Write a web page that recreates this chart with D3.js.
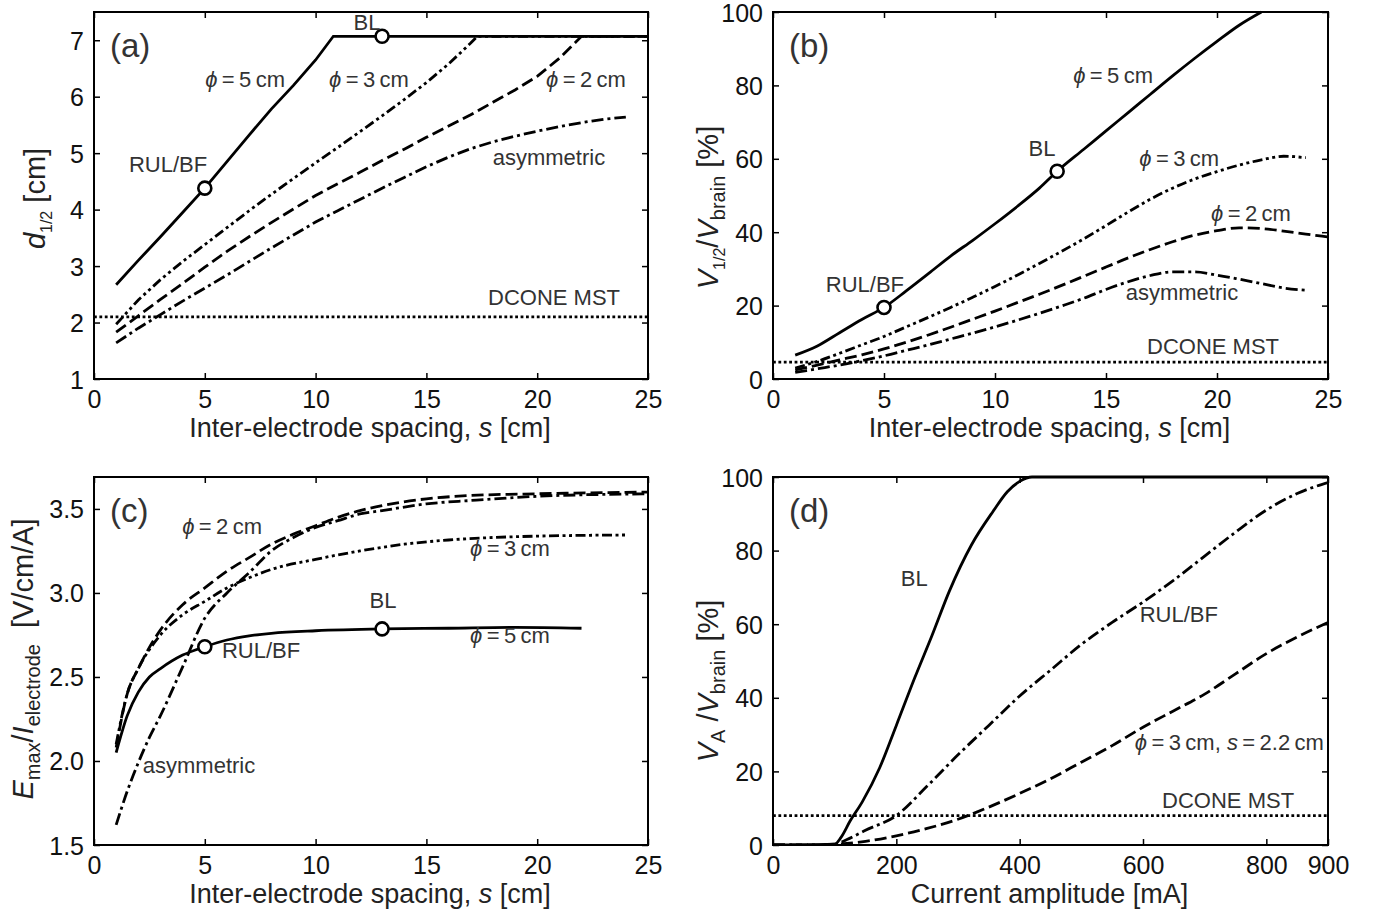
<!DOCTYPE html>
<html>
<head>
<meta charset="utf-8">
<script src="https://cdn.jsdelivr.net/npm/d3@7"></script>
<style>
  body { margin: 0; background: #fff; }
  svg { display: block; }
  .tick text { font-family: "Liberation Sans", Arial, sans-serif; font-size: 25px; fill: #111; }
  .tick line { stroke: #000; stroke-width: 1.5; }
  .lbl { font-family: "Liberation Sans", Arial, sans-serif; font-size: 22px; fill: #333; }
  .title { font-family: "Liberation Sans", Arial, sans-serif; font-size: 27px; fill: #222; }
</style>
</head>
<body>
<div class="chart"></div>
<script>
// DATA ------------------------------

// (a) d1/2 vs inter-electrode spacing
const aS_phi5 = [1, 2, 3, 4, 5, 6, 7, 8, 9, 10, 10.8, 13, 25];
const aD_phi5 = [2.67, 3.1, 3.52, 3.95, 4.38, 4.85, 5.32, 5.78, 6.2, 6.65, 7.07, 7.07, 7.07];
const aS_phi3 = [1, 2, 3, 4, 5, 6, 7, 8, 9, 10, 11, 12, 13, 14, 15, 16, 17, 17.3, 25];
const aD_phi3 = [1.97, 2.4, 2.76, 3.08, 3.38, 3.68, 3.98, 4.27, 4.55, 4.83, 5.1, 5.38, 5.66, 5.95, 6.25, 6.58, 6.95, 7.07, 7.07];
const aS_phi2 = [1, 2, 3, 4, 5, 6, 7, 8, 9, 10, 11, 12, 13, 14, 15, 16, 17, 18, 19, 20, 21, 22, 25];
const aD_phi2 = [1.83, 2.12, 2.41, 2.69, 2.98, 3.26, 3.52, 3.77, 4.01, 4.25, 4.46, 4.66, 4.87, 5.07, 5.28, 5.48, 5.68, 5.9, 6.12, 6.36, 6.68, 7.07, 7.07];
const aS_asym = [1, 2, 3, 4, 5, 6, 7, 8, 9, 10, 11, 12, 13, 14, 15, 16, 17, 18, 19, 20, 21, 22, 23, 24];
const aD_asym = [1.64, 1.9, 2.14, 2.38, 2.61, 2.84, 3.08, 3.32, 3.55, 3.78, 3.98, 4.18, 4.38, 4.57, 4.76, 4.93, 5.08, 5.2, 5.3, 5.39, 5.47, 5.54, 5.6, 5.64];
const aDcone = 2.1;
const aMarkers = [[5, 4.38], [13, 7.07]];

// (b) V1/2 / Vbrain vs spacing
const bS_phi5 = [1, 2, 3, 4, 5, 6, 7, 8, 9, 10, 11, 12, 12.8, 14, 15, 16, 17, 18, 19, 20, 21, 22];
const bV_phi5 = [6.5, 9, 12.6, 16.2, 19.5, 24, 28.7, 33.5, 37.8, 42.3, 47, 52, 56.6, 62.6, 67.6, 72.6, 77.6, 82.6, 87.4, 92, 96.4, 100];
const bS_phi3 = [1, 2, 3, 4, 5, 6, 7, 8, 9, 10, 11, 12, 13, 14, 15, 16, 17, 18, 19, 20, 21, 22, 23, 24];
const bV_phi3 = [3, 4.8, 7, 9.3, 11.6, 14.2, 16.8, 19.5, 22.3, 25.2, 28.3, 31.5, 34.8, 38.2, 41.8, 45.5, 49, 52, 54.5, 56.5, 58.3, 59.7, 60.7, 60.3];
const bS_phi2 = [1, 2, 3, 4, 5, 6, 7, 8, 9, 10, 11, 12, 13, 14, 15, 16, 17, 18, 19, 20, 21, 22, 23, 24, 25];
const bV_phi2 = [2.5, 3.8, 5.2, 6.6, 8.2, 10, 12, 14.1, 16.3, 18.5, 20.8, 23.1, 25.5, 28, 30.5, 33, 35.3, 37.4, 39.2, 40.4, 41.2, 41, 40.3, 39.5, 38.7];
const bS_asym = [1, 2, 3, 4, 5, 6, 7, 8, 9, 10, 11, 12, 13, 14, 15, 16, 17, 18, 19, 20, 21, 22, 23, 24];
const bV_asym = [1.8, 2.8, 3.8, 5, 6.3, 7.8, 9.3, 10.9, 12.5, 14.2, 16, 17.9, 19.9, 22, 24.4, 26.5, 28.2, 29.2, 29.2, 28.3, 27.2, 26, 24.8, 24.2];
const bDcone = 4.6;
const bMarkers = [[5, 19.5], [12.8, 56.6]];

// (c) Emax / Ielectrode vs spacing
const cS_phi5 = [1, 1.5, 2, 2.5, 3, 4, 5, 6, 7, 8, 10, 13, 16, 19, 22];
const cE_phi5 = [2.05, 2.27, 2.41, 2.5, 2.55, 2.63, 2.68, 2.72, 2.745, 2.76, 2.775, 2.786, 2.79, 2.795, 2.79];
const cS_phi3 = [1, 1.5, 2, 3, 4, 5, 6, 7, 8, 10, 12, 14, 16, 18, 20, 24];
const cE_phi3 = [2.1, 2.4, 2.55, 2.75, 2.87, 2.95, 3.03, 3.09, 3.14, 3.2, 3.25, 3.29, 3.315, 3.33, 3.338, 3.345];
const cS_phi2 = [1, 1.5, 2, 3, 4, 5, 6, 7, 8, 9, 10, 11, 12, 13, 15, 17, 20, 25];
const cE_phi2 = [2.08, 2.4, 2.55, 2.78, 2.93, 3.03, 3.13, 3.21, 3.29, 3.35, 3.4, 3.45, 3.49, 3.52, 3.56, 3.58, 3.59, 3.6];
const cS_asym = [1, 1.5, 2, 2.5, 3, 4, 5, 6, 7, 8, 9, 10, 11, 12, 13, 15, 17, 20, 25];
const cE_asym = [1.62, 1.82, 1.99, 2.14, 2.27, 2.56, 2.85, 3.0, 3.12, 3.25, 3.33, 3.39, 3.43, 3.47, 3.49, 3.53, 3.55, 3.575, 3.59];
const cMarkers = [[5, 2.68], [13, 2.786]];

// (d) VA / Vbrain vs current amplitude
const dI_BL = [0, 50, 100, 110, 125, 145, 173, 200, 230, 258, 286, 322, 357, 380, 400, 420, 900];
const dV_BL = [0, 0, 0.2, 2, 6.5, 11.8, 21, 32.5, 45.5, 57, 69, 81.6, 90.7, 96, 98.8, 100, 100];
const dI_RUL = [0, 50, 100, 120, 150, 200, 250, 300, 350, 400, 450, 500, 550, 600, 650, 700, 750, 800, 850, 900];
const dV_RUL = [0, 0, 0.2, 1.5, 4, 8, 16, 24.5, 32.5, 40.5, 47.5, 54.5, 60.5, 66, 72, 78.5, 85, 91, 95.5, 98.5];
const dI_phi3 = [0, 50, 100, 150, 200, 250, 300, 350, 400, 450, 500, 550, 600, 650, 700, 750, 800, 850, 900];
const dV_phi3 = [0, 0, 0.2, 1, 2.5, 4.5, 7, 10.3, 14, 18, 22.5, 27, 32, 36.5, 41, 46.5, 52, 56.5, 60.5];
const dDcone = 8;

// tick labels
const sTicks = [0, 5, 10, 15, 20, 25];
const aTicksY = [1, 2, 3, 4, 5, 6, 7];
const pctTicks = [0, 20, 40, 60, 80, 100];
const cTicksY = [1.5, 2.0, 2.5, 3.0, 3.5];
const dTicksX = [0, 200, 400, 600, 800, 900];

// STYLES ------------------------------
const dash = {
  solid: null,
  dashed: "12,5",
  dashdot: "12,4,3,4",
  dashdotdot: "10,3.5,3,3.5,3,3.5",
  dotted: "2.8,2.6"
};
const phi = "\u03D5";
const th = "\u2009";

const svg = d3.select(".chart").append("svg")
  .attr("width", 1373).attr("height", 917);

function drawPanel(p) {
  let x = d3.scaleLinear().domain(p.xDomain).range([p.left, p.right]);
  let y = d3.scaleLinear().domain(p.yDomain).range([p.bottom, p.top]);
  let g = svg.append("g");

  svg.append("clipPath").attr("id", "clip-" + p.name)
    .append("rect")
    .attr("x", p.left).attr("y", p.top - 2)
    .attr("width", p.right - p.left).attr("height", p.bottom - p.top + 2);

  // axes, ticks pointing inward on all four sides
  g.append("g").attr("transform", "translate(0," + p.bottom + ")")
    .call(d3.axisBottom(x).tickValues(p.xTicks).tickSizeInner(-6).tickSizeOuter(0)
      .tickPadding(11).tickFormat(d3.format("d")));
  let yl = g.append("g").attr("transform", "translate(" + p.left + ",0)")
    .call(d3.axisLeft(y).tickValues(p.yTicks).tickSizeInner(-6).tickSizeOuter(0)
      .tickPadding(10).tickFormat(p.yFormat || d3.format("d")));
  g.append("g").attr("transform", "translate(0," + p.top + ")")
    .call(d3.axisTop(x).tickValues(p.xTicks).tickSizeInner(-6).tickSizeOuter(0).tickFormat(""));
  g.append("g").attr("transform", "translate(" + p.right + ",0)")
    .call(d3.axisRight(y).tickValues(p.yTicks).tickSizeInner(-6).tickSizeOuter(0).tickFormat(""));
  g.selectAll(".domain").remove();
  yl.selectAll("text").attr("dy", "0.36em");

  g.append("rect")
    .attr("x", p.left).attr("y", p.top)
    .attr("width", p.right - p.left).attr("height", p.bottom - p.top)
    .attr("fill", "none").attr("stroke", "#000").attr("stroke-width", 2);

  // curves
  let line = d3.line()
    .x(d => x(d[0])).y(d => y(d[1]))
    .curve(p.curve || d3.curveMonotoneX);
  let plot = g.append("g").attr("clip-path", "url(#clip-" + p.name + ")");

  if (p.dcone != null) {
    plot.append("line")
      .attr("x1", x(p.xDomain[0])).attr("x2", x(p.xDomain[1]))
      .attr("y1", y(p.dcone)).attr("y2", y(p.dcone))
      .attr("stroke", "#000").attr("stroke-width", 2.8)
      .attr("stroke-dasharray", dash.dotted);
  }

  p.series.forEach(s => {
    plot.append("path")
      .datum(d3.zip(s.xs, s.ys))
      .attr("d", line)
      .attr("fill", "none")
      .attr("stroke", "#000")
      .attr("stroke-width", 2.8)
      .attr("stroke-dasharray", dash[s.style]);
  });

  (p.markers || []).forEach(m => {
    g.append("circle")
      .attr("cx", x(m[0])).attr("cy", y(m[1])).attr("r", 6.5)
      .attr("fill", "#fff").attr("stroke", "#000").attr("stroke-width", 2.6);
  });

  // annotations
  p.labels.forEach(l => {
    let t = g.append("text").attr("class", "lbl")
      .attr("x", x(l.at[0])).attr("y", y(l.at[1]))
      .attr("text-anchor", "middle");
    l.parts.forEach(pt => {
      t.append("tspan").text(pt[0]).attr("font-style", pt[1] ? "italic" : null);
    });
  });

  g.append("text").attr("class", "title")
    .attr("x", p.left + 16).attr("y", p.top + 45)
    .style("font-size", "33px").style("fill", "#333")
    .text(p.letter);

  // x title
  let xt = g.append("text").attr("class", "title")
    .attr("x", (p.left + p.right) / 2 - 1).attr("y", p.bottom + 58)
    .attr("text-anchor", "middle");
  p.xTitle.forEach(pt => xt.append("tspan").text(pt[0]).attr("font-style", pt[1] ? "italic" : null));

  // y title, rotated, with subscripts
  let yt = g.append("text").attr("class", "title")
    .style("font-size", "29px")
    .attr("transform", "translate(" + p.yTitleX + "," + ((p.top + p.bottom) / 2 + p.yTitleShift) + ") rotate(-90)")
    .attr("text-anchor", "middle");
  let shifted = 0;
  p.yTitle.forEach(pt => {
    let ts = yt.append("tspan").text(pt[0]);
    if (pt[1] == "i") ts.attr("font-style", "italic");
    if (pt[1] == "sub") {
      ts.style("font-size", (pt[2] || 20) + "px").attr("dy", 7 - shifted);
      shifted = 7;
    } else if (shifted) {
      ts.attr("dy", -shifted);
      shifted = 0;
    }
  });
}

const sTitle = [["Inter-electrode spacing, "], ["s", true], [" [cm]"]];

drawPanel({
  name: "a", letter: "(a)",
  left: 94, right: 648, top: 12, bottom: 379,
  xDomain: [0, 25], yDomain: [1, 7.5],
  xTicks: sTicks, yTicks: aTicksY,
  curve: d3.curveLinear,
  dcone: aDcone,
  series: [
    { xs: aS_asym, ys: aD_asym, style: "dashdot" },
    { xs: aS_phi2, ys: aD_phi2, style: "dashed" },
    { xs: aS_phi3, ys: aD_phi3, style: "dashdotdot" },
    { xs: aS_phi5, ys: aD_phi5, style: "solid" }
  ],
  markers: aMarkers,
  labels: [
    { at: [12.32, 7.18], parts: [["BL"]] },
    { at: [6.82, 6.18], parts: [[phi, true], [th + "=" + th + "5" + th + "cm"]] },
    { at: [12.41, 6.18], parts: [[phi, true], [th + "=" + th + "3" + th + "cm"]] },
    { at: [22.2, 6.18], parts: [[phi, true], [th + "=" + th + "2" + th + "cm"]] },
    { at: [3.34, 4.66], parts: [["RUL/BF"]] },
    { at: [20.53, 4.79], parts: [["asymmetric"]] },
    { at: [20.76, 2.31], parts: [["DCONE MST"]] }
  ],
  xTitle: sTitle,
  yTitle: [["d", "i"], ["1/2", "sub", 16], [" [cm]"]],
  yTitleX: 45, yTitleShift: 3
});

drawPanel({
  name: "b", letter: "(b)",
  left: 773, right: 1328, top: 12, bottom: 379,
  xDomain: [0, 25], yDomain: [0, 100],
  xTicks: sTicks, yTicks: pctTicks,
  dcone: bDcone,
  series: [
    { xs: bS_asym, ys: bV_asym, style: "dashdot" },
    { xs: bS_phi2, ys: bV_phi2, style: "dashed" },
    { xs: bS_phi3, ys: bV_phi3, style: "dashdotdot" },
    { xs: bS_phi5, ys: bV_phi5, style: "solid" }
  ],
  markers: bMarkers,
  labels: [
    { at: [15.32, 80.7], parts: [[phi, true], [th + "=" + th + "5" + th + "cm"]] },
    { at: [12.12, 60.8], parts: [["BL"]] },
    { at: [18.3, 58], parts: [[phi, true], [th + "=" + th + "3" + th + "cm"]] },
    { at: [21.53, 43.1], parts: [[phi, true], [th + "=" + th + "2" + th + "cm"]] },
    { at: [4.14, 23.7], parts: [["RUL/BF"]] },
    { at: [18.42, 21.5], parts: [["asymmetric"]] },
    { at: [19.82, 6.8], parts: [["DCONE MST"]] }
  ],
  xTitle: sTitle,
  yTitle: [["V", "i"], ["1/2", "sub", 16], ["/"], ["V", "i"], ["brain", "sub"], [" [%]"]],
  yTitleX: 718, yTitleShift: 12
});

drawPanel({
  name: "c", letter: "(c)",
  left: 94, right: 648, top: 477, bottom: 845,
  xDomain: [0, 25], yDomain: [1.5, 3.69],
  xTicks: sTicks, yTicks: cTicksY, yFormat: d3.format(".1f"),
  dcone: null,
  series: [
    { xs: cS_asym, ys: cE_asym, style: "dashdot" },
    { xs: cS_phi2, ys: cE_phi2, style: "dashed" },
    { xs: cS_phi3, ys: cE_phi3, style: "dashdotdot" },
    { xs: cS_phi5, ys: cE_phi5, style: "solid" }
  ],
  markers: cMarkers,
  labels: [
    { at: [5.78, 3.35], parts: [[phi, true], [th + "=" + th + "2" + th + "cm"]] },
    { at: [18.77, 3.22], parts: [[phi, true], [th + "=" + th + "3" + th + "cm"]] },
    { at: [13.04, 2.91], parts: [["BL"]] },
    { at: [18.77, 2.7], parts: [[phi, true], [th + "=" + th + "5" + th + "cm"]] },
    { at: [7.54, 2.61], parts: [["RUL/BF"]] },
    { at: [4.74, 1.93], parts: [["asymmetric"]] }
  ],
  xTitle: sTitle,
  yTitle: [["E", "i"], ["max", "sub"], ["/"], ["I", "i"], ["electrode", "sub"], ["\u00A0\u00A0[V/cm/A]"]],
  yTitleX: 33, yTitleShift: -2
});

drawPanel({
  name: "d", letter: "(d)",
  left: 773, right: 1328, top: 477, bottom: 845,
  xDomain: [0, 900], yDomain: [0, 100],
  xTicks: dTicksX, yTicks: pctTicks,
  dcone: dDcone,
  series: [
    { xs: dI_phi3, ys: dV_phi3, style: "dashed" },
    { xs: dI_RUL, ys: dV_RUL, style: "dashdot" },
    { xs: dI_BL, ys: dV_BL, style: "solid" }
  ],
  markers: [],
  labels: [
    { at: [229, 70.4], parts: [["BL"]] },
    { at: [658, 60.6], parts: [["RUL/BF"]] },
    { at: [740, 25.8], parts: [[phi, true], [th + "=" + th + "3" + th + "cm, "], ["s", true], [th + "=" + th + "2.2" + th + "cm"]] },
    { at: [738, 10], parts: [["DCONE MST"]] }
  ],
  xTitle: [["Current amplitude [mA]"]],
  yTitle: [["V", "i"], ["A", "sub"], ["\u00A0/"], ["V", "i"], ["brain", "sub"], [" [%]"]],
  yTitleX: 718, yTitleShift: 20
});
</script>
</body>
</html>
